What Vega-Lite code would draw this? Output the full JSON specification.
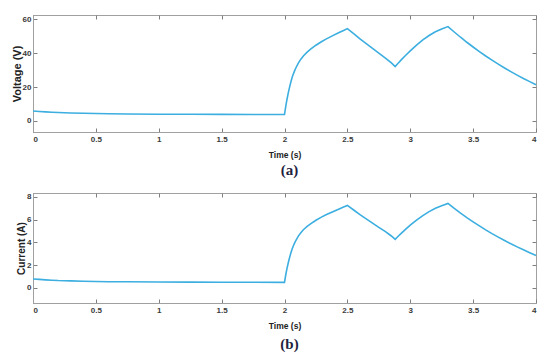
{
  "$schema": "https://vega.github.io/schema/vega-lite/v6.json",
  "padding": {"left": 10, "top": 14, "right": 11, "bottom": 4},
  "background": "white",
  "spacing": 14,
  "data": {"values": [
    {"t": 0, "V": 5.9, "I": 0.77},
    {"t": 0.05, "V": 5.6, "I": 0.73},
    {"t": 0.1, "V": 5.35, "I": 0.69},
    {"t": 0.15, "V": 5.15, "I": 0.66},
    {"t": 0.2, "V": 4.95, "I": 0.63},
    {"t": 0.3, "V": 4.7, "I": 0.6},
    {"t": 0.4, "V": 4.5, "I": 0.57},
    {"t": 0.5, "V": 4.35, "I": 0.55},
    {"t": 0.6, "V": 4.25, "I": 0.53},
    {"t": 0.75, "V": 4.1, "I": 0.52},
    {"t": 1.0, "V": 3.98, "I": 0.5},
    {"t": 1.25, "V": 3.92, "I": 0.49},
    {"t": 1.5, "V": 3.88, "I": 0.48},
    {"t": 1.75, "V": 3.85, "I": 0.48},
    {"t": 2.0, "V": 3.8, "I": 0.47},
    {"t": 2.01, "V": 8.6, "I": 1.14},
    {"t": 2.02, "V": 12.8, "I": 1.7},
    {"t": 2.03, "V": 16.5, "I": 2.2},
    {"t": 2.04, "V": 19.8, "I": 2.64},
    {"t": 2.05, "V": 22.8, "I": 3.04},
    {"t": 2.06, "V": 25.4, "I": 3.39},
    {"t": 2.07, "V": 27.6, "I": 3.68},
    {"t": 2.08, "V": 29.5, "I": 3.93},
    {"t": 2.09, "V": 31.2, "I": 4.16},
    {"t": 2.11, "V": 34.1, "I": 4.55},
    {"t": 2.13, "V": 36.4, "I": 4.85},
    {"t": 2.15, "V": 38.3, "I": 5.11},
    {"t": 2.18, "V": 40.5, "I": 5.4},
    {"t": 2.21, "V": 42.4, "I": 5.65},
    {"t": 2.25, "V": 44.6, "I": 5.95},
    {"t": 2.29, "V": 46.5, "I": 6.2},
    {"t": 2.33, "V": 48.2, "I": 6.43},
    {"t": 2.38, "V": 50.1, "I": 6.68},
    {"t": 2.43, "V": 51.9, "I": 6.92},
    {"t": 2.47, "V": 53.3, "I": 7.11},
    {"t": 2.5, "V": 54.4, "I": 7.25},
    {"t": 2.55, "V": 51.4, "I": 6.85},
    {"t": 2.6, "V": 48.4, "I": 6.45},
    {"t": 2.65, "V": 45.5, "I": 6.07},
    {"t": 2.7, "V": 42.7, "I": 5.69},
    {"t": 2.75, "V": 39.9, "I": 5.32},
    {"t": 2.8, "V": 37.2, "I": 4.96},
    {"t": 2.85, "V": 34.2, "I": 4.56},
    {"t": 2.88, "V": 32.0, "I": 4.26},
    {"t": 2.9, "V": 33.7, "I": 4.49},
    {"t": 2.93, "V": 36.1, "I": 4.81},
    {"t": 2.96, "V": 38.4, "I": 5.12},
    {"t": 3.0, "V": 41.3, "I": 5.51},
    {"t": 3.05, "V": 44.7, "I": 5.96},
    {"t": 3.1, "V": 47.7, "I": 6.36},
    {"t": 3.15, "V": 50.3, "I": 6.71},
    {"t": 3.2, "V": 52.5, "I": 7.0},
    {"t": 3.25, "V": 54.2, "I": 7.23},
    {"t": 3.3, "V": 55.6, "I": 7.43},
    {"t": 3.35, "V": 52.4, "I": 6.99},
    {"t": 3.4, "V": 49.3, "I": 6.57},
    {"t": 3.45, "V": 46.35, "I": 6.18},
    {"t": 3.5, "V": 43.55, "I": 5.81},
    {"t": 3.55, "V": 40.85, "I": 5.45},
    {"t": 3.6, "V": 38.25, "I": 5.1},
    {"t": 3.65, "V": 35.8, "I": 4.77},
    {"t": 3.7, "V": 33.45, "I": 4.46},
    {"t": 3.75, "V": 31.2, "I": 4.16},
    {"t": 3.8, "V": 29.05, "I": 3.87},
    {"t": 3.85, "V": 27.0, "I": 3.6},
    {"t": 3.9, "V": 25.05, "I": 3.34},
    {"t": 3.95, "V": 23.15, "I": 3.09},
    {"t": 4.0, "V": 21.3, "I": 2.84}
  ]},
  "config": {
    "view": {"stroke": "#a0a0a0", "strokeWidth": 1},
    "axis": {
      "grid": false,
      "domainColor": "#a0a0a0",
      "tickColor": "#808080",
      "tickSize": -4,
      "labelFont": "Liberation Sans",
      "labelFontSize": 8,
      "labelFontWeight": "bold",
      "labelColor": "#3a3a3a",
      "labelPadding": 7,
      "titleFont": "Liberation Sans",
      "titleFontWeight": "bold",
      "titleColor": "#222222",
      "titleFontSize": 8.5
    },
    "axisLeft": {"labelPadding": 6, "titlePadding": 0}
  },
  "vconcat": [
    {
      "width": 503,
      "height": 117,
      "title": {"text": "(a)", "orient": "bottom", "anchor": "middle", "frame": "group", "font": "Liberation Serif", "fontSize": 15, "fontWeight": "bold", "color": "#1f1f3f", "offset": 4, "dx": 5},
      "layer": [
        {
          "mark": {"type": "line", "color": "#3caee0", "strokeWidth": 1.6},
          "encoding": {
            "x": {"field": "t", "type": "quantitative", "scale": {"domain": [0, 4], "nice": false, "zero": false},
                  "axis": {"title": "Time (s)", "values": [0, 0.5, 1, 1.5, 2, 2.5, 3, 3.5, 4], "format": "~g", "titlePadding": 7}},
            "y": {"field": "V", "type": "quantitative", "scale": {"domain": [-6.5, 62.4], "nice": false, "zero": false},
                  "axis": {"title": "Voltage (V)", "values": [0, 20, 40, 60], "titleFontSize": 11}}
          }
        },
        {
          "mark": {"type": "line", "opacity": 0},
          "encoding": {
            "x": {"field": "t", "type": "quantitative", "axis": {"orient": "top", "labels": false, "title": null, "domain": false, "labelPadding": 0, "minExtent": 0, "maxExtent": 0, "values": [0, 0.5, 1, 1.5, 2, 2.5, 3, 3.5, 4]}},
            "y": {"field": "V", "type": "quantitative", "axis": {"orient": "right", "labels": false, "title": null, "domain": false, "labelPadding": 0, "minExtent": 0, "maxExtent": 0, "values": [0, 20, 40, 60]}}
          }
        }
      ],
      "resolve": {"axis": {"x": "independent", "y": "independent"}}
    },
    {
      "width": 503,
      "height": 110,
      "title": {"text": "(b)", "orient": "bottom", "anchor": "middle", "frame": "group", "font": "Liberation Serif", "fontSize": 15, "fontWeight": "bold", "color": "#1f1f3f", "offset": 7, "dx": 5},
      "layer": [
        {
          "mark": {"type": "line", "color": "#3caee0", "strokeWidth": 1.6},
          "encoding": {
            "x": {"field": "t", "type": "quantitative", "scale": {"domain": [0, 4], "nice": false, "zero": false},
                  "axis": {"title": "Time (s)", "values": [0, 0.5, 1, 1.5, 2, 2.5, 3, 3.5, 4], "format": "~g", "titlePadding": 7}},
            "y": {"field": "I", "type": "quantitative", "scale": {"domain": [-1.35, 8.35], "nice": false, "zero": false},
                  "axis": {"title": "Current (A)", "values": [0, 2, 4, 6, 8], "titleFontSize": 10}}
          }
        },
        {
          "mark": {"type": "line", "opacity": 0},
          "encoding": {
            "x": {"field": "t", "type": "quantitative", "axis": {"orient": "top", "labels": false, "title": null, "domain": false, "labelPadding": 0, "minExtent": 0, "maxExtent": 0, "values": [0, 0.5, 1, 1.5, 2, 2.5, 3, 3.5, 4]}},
            "y": {"field": "I", "type": "quantitative", "axis": {"orient": "right", "labels": false, "title": null, "domain": false, "labelPadding": 0, "minExtent": 0, "maxExtent": 0, "values": [0, 2, 4, 6, 8]}}
          }
        }
      ],
      "resolve": {"axis": {"x": "independent", "y": "independent"}}
    }
  ]
}
